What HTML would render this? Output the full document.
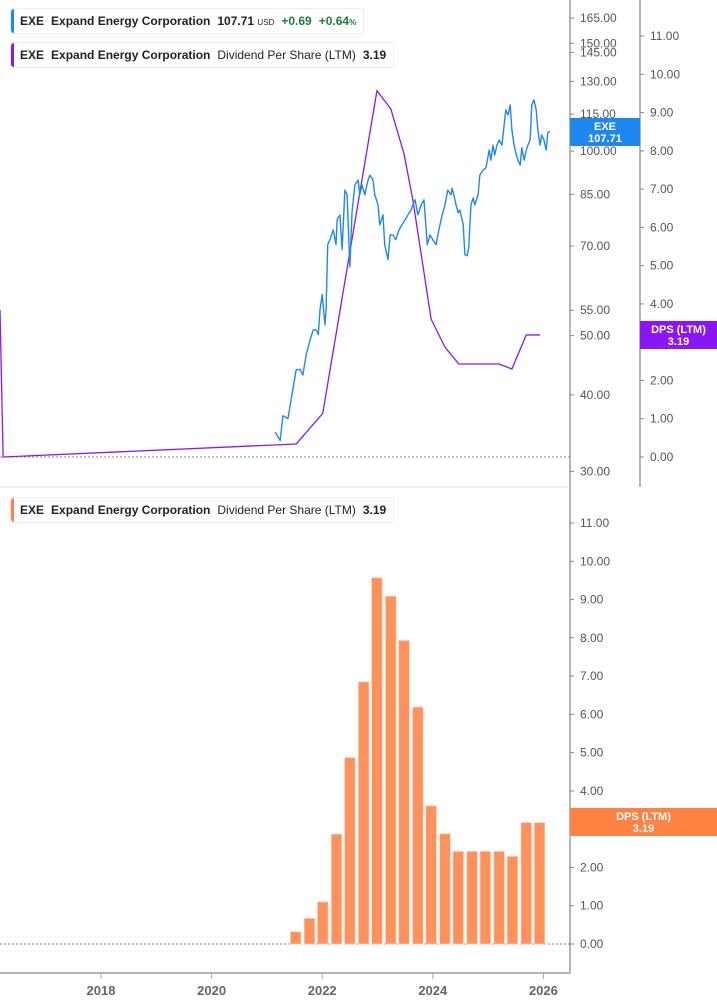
<!DOCTYPE html>
<html><head><meta charset="utf-8"><style>
body{margin:0;background:#fff;font-family:"Liberation Sans",sans-serif;}
svg{display:block}
.lg{position:absolute;left:10px;height:24px;border:1px solid #eee;border-radius:3px;background:#fff;font-size:12px;font-weight:bold;color:#222;line-height:24px;padding:0 7px 0 9px;white-space:nowrap}
.lg:before{content:"";position:absolute;left:0;top:0;bottom:0;width:3px;border-radius:3px 0 0 3px;background:var(--c)}
.lg span{margin-right:7px}
</style></head><body>
<div style="position:relative;width:717px;height:1005px">
<svg id="svg" width="717" height="1005"></svg>
<div class="lg" style="top:8px;--c:#1e88f0"><span>EXE</span><span>Expand Energy Corporation</span><span>107.71 <small style="font-size:8px;font-weight:normal">USD</small></span><span style="color:#1b7f3b">+0.69</span><span style="color:#1b7f3b;margin:0">+0.64<small style="font-size:8px">%</small></span></div>
<div class="lg" style="top:42px;--c:#8a16f5"><span>EXE</span><span>Expand Energy Corporation</span><span style="font-weight:normal">Dividend Per Share (LTM)</span><span style="margin:0">3.19</span></div>
<div class="lg" style="top:497px;--c:#ff8243"><span>EXE</span><span>Expand Energy Corporation</span><span style="font-weight:normal">Dividend Per Share (LTM)</span><span style="margin:0">3.19</span></div>
</div>
<script>
const priceDates=[2021.15,2021.24,2021.29,2021.38,2021.45,2021.53,2021.60,2021.65,2021.71,2021.78,2021.84,2021.89,2021.93,2021.96,2022.00,2022.05,2022.07,2022.10,2022.14,2022.20,2022.25,2022.27,2022.32,2022.36,2022.41,2022.45,2022.50,2022.54,2022.59,2022.65,2022.68,2022.72,2022.77,2022.83,2022.86,2022.92,2022.95,2023.01,2023.04,2023.10,2023.13,2023.19,2023.23,2023.28,2023.33,2023.39,2023.44,2023.50,2023.55,2023.61,2023.64,2023.68,2023.73,2023.79,2023.84,2023.90,2023.95,2024.00,2024.06,2024.11,2024.17,2024.22,2024.27,2024.33,2024.35,2024.38,2024.42,2024.46,2024.49,2024.55,2024.58,2024.62,2024.65,2024.69,2024.73,2024.76,2024.82,2024.85,2024.91,2024.96,2025.02,2025.05,2025.09,2025.12,2025.16,2025.20,2025.25,2025.29,2025.32,2025.36,2025.40,2025.43,2025.47,2025.51,2025.54,2025.58,2025.61,2025.65,2025.69,2025.72,2025.76,2025.79,2025.83,2025.87,2025.90,2025.94,2025.97,2026.01,2026.05,2026.08,2026.12];
const priceValues=[34.8,33.7,37.0,36.6,39.9,44.0,44.0,43.1,46.5,49.2,51.1,51.1,50.2,55.1,58.3,52.1,55.1,70.4,71.7,74.4,70.4,77.3,78.7,69.1,86.4,84.9,64.7,79.7,88.1,89.7,84.9,88.1,84.9,89.7,91.4,89.7,84.9,81.7,75.8,78.7,70.4,66.5,73.0,73.0,71.7,74.4,75.8,77.3,78.7,80.2,81.7,83.3,78.7,81.7,83.3,70.4,73.0,71.7,70.4,74.4,78.7,81.7,86.4,84.9,87.0,84.9,81.7,79.3,80.2,75.8,67.8,67.5,69.6,81.7,83.9,81.7,84.9,91.4,93.2,93.9,100.4,96.7,102.3,98.6,102.3,104.3,102.3,110.3,116.8,114.6,119.0,108.3,102.3,98.6,96.7,94.9,101.3,96.7,100.4,102.3,104.3,119.0,121.3,116.8,108.3,102.3,106.3,104.3,100.4,107.3,107.7];
const dpsLineDates=[2016.17,2016.23,2021.53,2022.01,2022.99,2023.24,2023.48,2023.64,2023.97,2024.22,2024.47,2025.20,2025.43,2025.69,2025.94];
const dpsLineValues=[3.84,0,0.34,1.14,9.57,9.10,7.92,6.71,3.60,2.87,2.43,2.43,2.30,3.19,3.19];
const barDates=[2021.52,2021.77,2022.01,2022.26,2022.50,2022.75,2022.99,2023.24,2023.48,2023.73,2023.97,2024.22,2024.46,2024.71,2024.95,2025.20,2025.44,2025.69,2025.93];
const barValues=[0.32,0.67,1.10,2.87,4.87,6.85,9.57,9.09,7.93,6.19,3.61,2.88,2.42,2.42,2.42,2.42,2.29,3.17,3.17];
const priceTicks=[165,150,145,130,115,100,85,70,55,50,40,30];
const dpsTicks=[0,1,2,3,4,5,6,7,8,9,10,11];
const yearTicks=[2018,2020,2022,2024,2026];

const X=y=>101+(y-2018)*55.3;
const YP=v=>18+266*Math.log(165/v);
const YD=v=>457-38.27*v;
const YB=v=>944-38.27*v;
const svg=document.getElementById('svg');
const NS='http://www.w3.org/2000/svg';
function el(t,a,p){const e=document.createElementNS(NS,t);for(const k in a)e.setAttribute(k,a[k]);(p||svg).appendChild(e);return e;}
function txt(s,x,y,a,p){const e=el('text',Object.assign({x:x,y:y,'font-size':12,fill:'#555','font-family':'Liberation Sans, sans-serif'},a),p);e.textContent=s;return e;}

let e;
e=el('line',{x1:0,y1:487,x2:570,y2:487,stroke:'#ddd'});

e=el('line',{x1:570,y1:0,x2:570,y2:973,stroke:'#b5b5b5','stroke-width':2});

e=el('line',{x1:640,y1:0,x2:640,y2:487,stroke:'#b5b5b5','stroke-width':2});

e=el('line',{x1:0,y1:973,x2:571,y2:973,stroke:'#b5b5b5','stroke-width':2});

e=el('line',{x1:0,y1:457,x2:570,y2:457,stroke:'#888','stroke-dasharray':'2,2'});

e=el('line',{x1:0,y1:944,x2:570,y2:944,stroke:'#888','stroke-dasharray':'2,2'});


priceTicks.forEach(v=>{const y=YP(v);
 e=el('line',{x1:570,y1:y,x2:574,y2:y,stroke:'#888'});
 
 e=txt(v.toFixed(2),580,y+4);
 });
dpsTicks.forEach(v=>{let y=YD(v);
 e=el('line',{x1:640,y1:y,x2:644,y2:y,stroke:'#888'});
 
 e=txt(v.toFixed(2),650,y+4);
 
 y=YB(v);
 e=el('line',{x1:570,y1:y,x2:574,y2:y,stroke:'#888'});
 
 e=txt(v.toFixed(2),580,y+4);
 });
yearTicks.forEach(t=>{const x=X(t);
 e=el('line',{x1:x,y1:973,x2:x,y2:979,stroke:'#aaa'});
 
 e=txt(String(t),x,995,{'text-anchor':'middle','font-weight':'bold','font-size':13,fill:'#666'});
 });

barDates.forEach((d,i)=>{const x=X(d),y=YB(barValues[i]);
 e=el('rect',{x:x-5.3,y:y,width:10.6,height:944-y,fill:'#ff915b',stroke:'#ffd3c0','stroke-width':0.7});
 });

e=el('polyline',{points:dpsLineDates.map((d,i)=>Math.max(0,X(d))+','+YD(dpsLineValues[i])).join(' '),fill:'none',stroke:'#8a16f5','stroke-width':1.3});

e=el('polyline',{points:priceDates.map((d,i)=>X(d)+','+YP(priceValues[i])).join(' '),fill:'none',stroke:'#1e88f0','stroke-width':1.4,'stroke-linejoin':'round'});


function badge(name,x,y,w,color,l1,l2){const g=el('g',{});
 
 el('rect',{x:x,y:y,width:w,height:28,fill:color},g);
 txt(l1,x+w/2,y+12,{'text-anchor':'middle',fill:'#fff','font-weight':'bold','font-size':11},g);
 txt(l2,x+w/2,y+24,{'text-anchor':'middle',fill:'#fff','font-weight':'bold','font-size':11},g);}
badge('price-badge',570,118,70,'#1e88f0','EXE','107.71');
badge('dps-line-badge',640,321,77,'#8a16f5','DPS (LTM)','3.19');
badge('dps-bar-badge',570,808,147,'#ff8243','DPS (LTM)','3.19');
</script>
</body></html>
